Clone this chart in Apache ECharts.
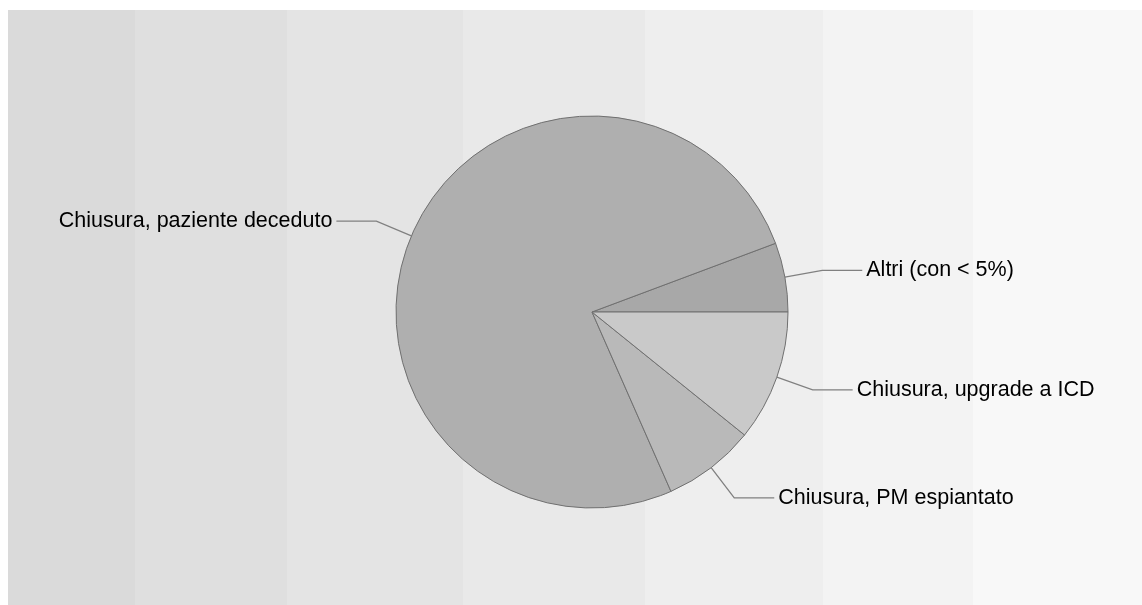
<!DOCTYPE html>
<html>
<head>
<meta charset="utf-8">
<script src="https://cdn.jsdelivr.net/npm/echarts@6/dist/echarts.min.js"></script>
<style>
html,body{margin:0;padding:0;background:#ffffff;}
#chart{width:1142px;height:605px;}
</style>
</head>
<body>
<div id="chart"></div>
<script>
// Data
const categories = ['Altri (con < 5%)', 'Chiusura, paziente deceduto', 'Chiusura, PM espiantato', 'Chiusura, upgrade a ICD'];
const values = [5.7, 75.9, 7.6, 10.8];
const sliceColors = ['#a8a8a8', '#afafaf', '#b9b9b9', '#c9c9c9'];

// Background stripes (style only)
const stripeEdges = [8, 135, 287, 463, 645, 823, 973, 1142];
const stripeColors = ['#dadada', '#dfdfdf', '#e4e4e4', '#e9e9e9', '#eeeeee', '#f3f3f3', '#f8f8f8'];

const graphics = [];
for (let i = 0; i < stripeColors.length; i++) {
  graphics.push({
    type: 'rect', silent: true, z: -10,
    shape: { x: stripeEdges[i], y: 10, width: stripeEdges[i + 1] - stripeEdges[i], height: 595 },
    style: { fill: stripeColors[i] }
  });
}

const chart = echarts.init(document.getElementById('chart'), null, { renderer: 'canvas' });
chart.setOption({
  animation: false,
  backgroundColor: '#ffffff',
  graphic: graphics,
  series: [{
    type: 'pie',
    center: [592, 312],
    radius: [0, 196],
    startAngle: 0,
    clockwise: false,
    avoidLabelOverlap: false,
    data: categories.map((c, i) => ({ name: c, value: values[i], itemStyle: { color: sliceColors[i] } })),
    itemStyle: { borderColor: '#707070', borderWidth: 1 },
    label: {
      show: true,
      formatter: '{b}',
      fontFamily: 'Liberation Sans, Arial, sans-serif',
      fontSize: 21.5,
      color: '#000000',
      distanceToLabelLine: 4
    },
    labelLine: {
      show: true,
      length: 38,
      length2: 40,
      lineStyle: { color: '#808080', width: 1.3 }
    },
    emphasis: { disabled: true }
  }]
});
</script>
</body>
</html>
